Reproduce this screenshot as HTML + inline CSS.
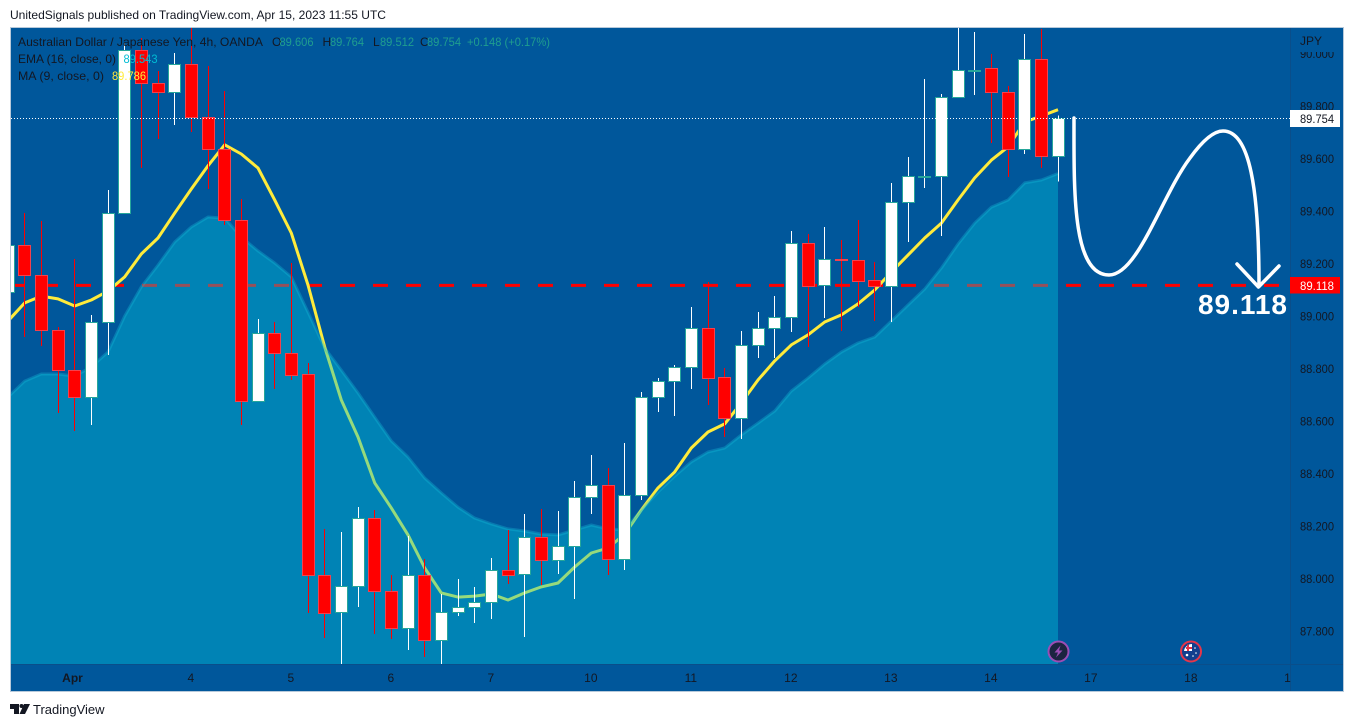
<!DOCTYPE html>
<html lang="en">
<head>
<meta charset="utf-8">
<title>AUD/JPY 4h chart</title>
<style>
html,body{margin:0;padding:0;background:#fff;width:1354px;height:727px;overflow:hidden}
svg{display:block;font-family:"Liberation Sans",Arial,sans-serif}
</style>
</head>
<body>
<svg id="chart" width="1354" height="727" viewBox="0 0 1354 727" xmlns="http://www.w3.org/2000/svg">
  <rect x="0" y="0" width="1354" height="727" fill="#ffffff"/>
  <text x="10" y="19" font-size="12" fill="#131722" textLength="376" lengthAdjust="spacingAndGlyphs">UnitedSignals published on TradingView.com, Apr 15, 2023 11:55 UTC</text>
  <rect x="10.5" y="27.5" width="1333" height="664" fill="#00579b" stroke="#b7c9da" stroke-width="1"/>
  <g id="plot" clip-path="url(#plotClip)"></g>
  <defs>
    <clipPath id="plotClip"><rect x="11" y="28" width="1279" height="636"/></clipPath>
  </defs>
  <line x1="11" y1="664.5" x2="1343" y2="664.5" stroke="#0a4e8a" stroke-width="1"/>
  <line x1="1290.5" y1="28" x2="1290.5" y2="691" stroke="#0a4e8a" stroke-width="1"/>
  <g id="priceAxis"></g>
  <rect x="1291" y="28" width="52" height="24" fill="#00579b"/>
  <text x="1300" y="45" font-size="12" fill="#131722">JPY</text>
  <g id="timeAxis"></g>

  <g fill="none" stroke="#ffffff" stroke-width="3.5" stroke-linecap="round" stroke-linejoin="round">
    <path d="M1074 118 C1074 190,1072 275,1109 275 C1138 275,1162 195,1190 158 C1203 140,1214 131,1223 131 C1250 131,1259 190,1259 285"/>
    <path d="M1237 264 L1258.500 287 L1279 266"/>
  </g>
  <text x="1198" y="314" font-size="28" font-weight="700" fill="#ffffff" textLength="89" lengthAdjust="spacing">89.118</text>

  <g>
    <rect x="1290" y="110" width="50" height="17" fill="#ffffff"/>
    <text x="1300" y="123" font-size="12" fill="#131722" textLength="34" lengthAdjust="spacingAndGlyphs">89.754</text>
  </g>
  <g>
    <rect x="1290" y="277" width="50" height="16.500" fill="#ff0000"/>
    <text x="1300" y="290" font-size="12" fill="#ffffff" textLength="34" lengthAdjust="spacingAndGlyphs">89.118</text>
  </g>

  <g font-size="12">
    <text x="18" y="46" fill="#131722" textLength="245" lengthAdjust="spacingAndGlyphs">Australian Dollar / Japanese Yen, 4h, OANDA</text>
    <text x="272" y="46" fill="#131722">O</text>
    <text x="279.500" y="46" fill="#1f9e8f" textLength="34" lengthAdjust="spacingAndGlyphs">89.606</text>
    <text x="322.500" y="46" fill="#131722">H</text>
    <text x="330" y="46" fill="#1f9e8f" textLength="34" lengthAdjust="spacingAndGlyphs">89.764</text>
    <text x="373" y="46" fill="#131722">L</text>
    <text x="380" y="46" fill="#1f9e8f" textLength="34" lengthAdjust="spacingAndGlyphs">89.512</text>
    <text x="420" y="46" fill="#131722">C</text>
    <text x="427" y="46" fill="#1f9e8f" textLength="34" lengthAdjust="spacingAndGlyphs">89.754</text>
    <text x="467" y="46" fill="#1f9e8f" textLength="83" lengthAdjust="spacingAndGlyphs">+0.148 (+0.17%)</text>
    <text x="18" y="63" fill="#131722" textLength="98" lengthAdjust="spacingAndGlyphs">EMA (16, close, 0)</text>
    <text x="123.500" y="63" fill="#00bcd4" textLength="34" lengthAdjust="spacingAndGlyphs">89.543</text>
    <text x="18" y="80" fill="#131722" textLength="86" lengthAdjust="spacingAndGlyphs">MA (9, close, 0)</text>
    <text x="112" y="80" fill="#ffeb3b" textLength="34" lengthAdjust="spacingAndGlyphs">89.786</text>
  </g>

  <g>
    <circle cx="1058.500" cy="651.500" r="10" fill="#1c2440" stroke="#9b4db5" stroke-width="2"/>
    <path d="M1060.500 645.500 L1054.500 652.500 L1058 652.500 L1056 657.500 L1062.500 650.500 L1059 650.500 Z" fill="#9b4db5"/>
  </g>
  <g>
    <circle cx="1191" cy="651.500" r="10" fill="#123f8e" stroke="#e5364a" stroke-width="2"/>
    <path d="M1184 651 A8 8 0 0 1 1192 644 L1192 651 Z" fill="#ffffff"/>
    <path d="M1186 648 L1192 648 M1188 644.500 L1188 651" stroke="#e5364a" stroke-width="2" fill="none"/>
    <circle cx="1187" cy="655" r="1.300" fill="#ffffff"/>
    <circle cx="1195" cy="648" r="0.800" fill="#ffffff"/>
    <circle cx="1196" cy="653" r="0.800" fill="#ffffff"/>
    <circle cx="1193" cy="656" r="0.800" fill="#ffffff"/>
  </g>

  <g>
    <path d="M10 704 H19 V714 H14 V709 H10 Z M24 704 H30 L25 714 H19.500 Z" fill="#131722"/>
    <circle cx="21.500" cy="706" r="2" fill="#131722"/>
    <text x="33" y="714" font-size="13" fill="#131722">TradingView</text>
  </g>
</svg>

<script>
const opens  = [89.091,89.270,89.156,88.943,88.794,88.691,88.977,89.392,90.010,89.884,89.850,89.960,89.758,89.636,89.362,88.676,88.935,88.859,88.779,88.013,87.872,87.968,88.227,87.952,87.808,88.013,87.762,87.872,87.891,87.910,88.032,88.017,88.158,88.067,88.120,88.310,88.356,88.074,88.318,88.691,88.749,88.802,88.954,88.764,88.608,88.886,88.954,88.996,89.278,89.118,89.215,89.213,89.137,89.111,89.434,89.532,89.533,89.834,89.936,89.941,89.853,89.636,89.979,89.606];
const highs  = [89.328,89.392,89.362,88.958,89.217,89.004,89.480,90.040,90.059,89.933,90.002,90.113,89.953,89.857,89.446,88.989,88.977,89.202,88.821,88.189,88.177,88.272,88.261,88.013,88.162,88.074,87.941,87.998,87.968,88.078,88.185,88.246,88.265,88.257,88.371,88.470,88.421,88.516,88.710,88.764,88.813,89.034,89.130,88.802,88.943,89.015,89.076,89.324,89.312,89.339,89.290,89.366,89.206,89.507,89.606,89.903,89.846,90.113,90.082,89.998,89.876,90.074,90.094,89.764];
const lows   = [89.061,88.920,88.886,88.630,88.562,88.585,88.851,89.392,89.564,89.674,89.728,89.701,89.484,89.347,88.585,88.676,88.722,88.756,87.868,87.773,87.670,87.891,87.788,87.769,87.727,87.701,87.670,87.857,87.830,87.846,87.979,87.777,87.975,88.017,87.922,88.246,88.013,88.032,88.299,88.634,88.619,88.722,88.661,88.539,88.531,88.840,88.840,88.939,88.882,88.992,88.943,89.034,88.981,88.977,89.282,89.488,89.305,89.834,89.842,89.659,89.530,89.617,89.564,89.512];
const closes = [89.270,89.156,88.943,88.794,88.691,88.977,89.392,90.010,89.884,89.850,89.960,89.758,89.636,89.362,88.676,88.935,88.859,88.775,88.013,87.868,87.968,88.227,87.952,87.808,88.013,87.762,87.872,87.891,87.910,88.032,88.013,88.158,88.067,88.120,88.310,88.356,88.074,88.318,88.691,88.749,88.802,88.954,88.760,88.608,88.886,88.954,88.996,89.278,89.114,89.217,89.211,89.133,89.111,89.434,89.533,89.533,89.834,89.937,89.937,89.853,89.636,89.979,89.606,89.754];
const maValues  = [88.981,89.050,89.076,89.065,89.038,89.061,89.095,89.149,89.236,89.297,89.392,89.484,89.572,89.652,89.617,89.564,89.442,89.316,89.118,88.882,88.680,88.539,88.364,88.269,88.166,88.040,87.945,87.929,87.933,87.941,87.918,87.945,87.968,87.983,88.044,88.097,88.116,88.169,88.261,88.345,88.406,88.497,88.558,88.589,88.669,88.756,88.829,88.890,88.928,88.977,89.004,89.046,89.099,89.168,89.232,89.297,89.354,89.442,89.526,89.594,89.644,89.739,89.762,89.786];
const emaValues = [88.691,88.752,88.779,88.779,88.771,88.806,88.863,89.000,89.111,89.194,89.282,89.339,89.377,89.373,89.301,89.248,89.202,89.149,89.015,88.878,88.794,88.707,88.615,88.524,88.463,88.383,88.326,88.272,88.230,88.208,88.189,88.181,88.169,88.166,88.185,88.204,88.189,88.185,88.261,88.329,88.390,88.444,88.482,88.497,88.547,88.592,88.638,88.714,88.764,88.817,88.863,88.897,88.920,88.981,89.042,89.103,89.183,89.274,89.354,89.415,89.442,89.507,89.518,89.543];
const priceTicks = [90.000,89.800,89.600,89.400,89.200,89.000,88.800,88.600,88.400,88.200,88.000,87.800];
const timeLabels = ["Apr","4","5","6","7","10","11","12","13","14","17","18","1"];
const timeLabelBars = [3.9,11,17,23,29,35,41,47,53,59,65,71,76.8];
const supportLevel = [89.118];
const lastPrice = [89.754];

const NS = "http://www.w3.org/2000/svg";
const xScale = function (i) { return 8 + i * 16.667; };
const yScale = function (p) { return 631 - (p - 87.8) * 262.5; };
const snap = function (v) { return Math.floor(v) + 0.5; };

function mk(parent, tag, attrs, text) {
  const el = document.createElementNS(NS, tag);
  for (const k in attrs) { el.setAttribute(k, attrs[k]); }
  if (text !== undefined) { el.textContent = text; }
  parent.appendChild(el);
  return el;
}

const plot = document.getElementById("plot");
const priceAxis = document.getElementById("priceAxis");
const timeAxis = document.getElementById("timeAxis");

const supportLine = mk(plot, "line", { x1: 10, x2: 1279, y1: yScale(supportLevel[0]) + 0.3, y2: yScale(supportLevel[0]) + 0.3, stroke: "#ff0000", "stroke-width": 3, "stroke-dasharray": "15 18" });



const maPoints = maValues.map(function (v, i) { return xScale(i).toFixed(1) + "," + yScale(v).toFixed(1); }).join(" ");
const maLine = mk(plot, "polyline", { points: maPoints, fill: "none", stroke: "#ffeb3b", "stroke-width": 3, "stroke-linejoin": "round" });



const emaPoints = emaValues.map(function (v, i) { return xScale(i).toFixed(1) + "," + yScale(v).toFixed(1); });
const lastBarX = xScale(emaValues.length - 1).toFixed(1);
const areaPath = "M" + emaPoints.join(" L") + " L" + lastBarX + ",664 L" + xScale(0).toFixed(1) + ",664 Z";
const emaArea = mk(plot, "path", { d: areaPath, fill: "rgba(0,195,218,0.41)", stroke: "none" });


const emaLine = mk(plot, "polyline", { points: emaPoints.join(" "), fill: "none", stroke: "rgba(20,185,215,0.35)", "stroke-width": 3, "stroke-linejoin": "round" });



opens.forEach(function (o, i) {
  const c = closes[i];
  const up = c >= o;
  const cx = snap(xScale(i));
  const g = mk(plot, "g", {});
  
  
  const wick = mk(g, "line", { x1: cx, x2: cx, y1: yScale(highs[i]), y2: yScale(lows[i]), stroke: up ? "#ffffff" : "#ff0000", "stroke-width": 1, "shape-rendering": "crispEdges" });
  
  
  const top = snap(yScale(Math.max(o, c)));
  const bottom = snap(yScale(Math.min(o, c)));
  const body = mk(g, "rect", { x: cx - 6, y: top, width: 12, height: Math.max(bottom - top, 1), fill: up ? "#ffffff" : "#ff0000", stroke: up ? "#26a69a" : "#f4414d", "stroke-width": 1, "shape-rendering": "crispEdges" });
  
  
});

const lastLine = mk(plot, "line", { x1: 11, x2: 1290, y1: snap(yScale(lastPrice[0])), y2: snap(yScale(lastPrice[0])), stroke: "#ffffff", "stroke-width": 1, "stroke-dasharray": "1 2", "shape-rendering": "crispEdges" });



priceTicks.forEach(function (p) {
  const t = mk(priceAxis, "text", { x: 1300, y: yScale(p) + 4.5, "font-size": 12, fill: "#131722", textLength: 34, lengthAdjust: "spacingAndGlyphs" }, p.toFixed(3));
  
  
});

timeLabels.forEach(function (label, i) {
  const isBold = label === "Apr";
  const t = mk(timeAxis, "text", { x: xScale(timeLabelBars[i]) - 0.5, y: 682, "font-size": 12, "text-anchor": "middle", "font-weight": isBold ? 700 : 400, fill: "#131722" }, label);
  
  
});
</script>
</body>
</html>
